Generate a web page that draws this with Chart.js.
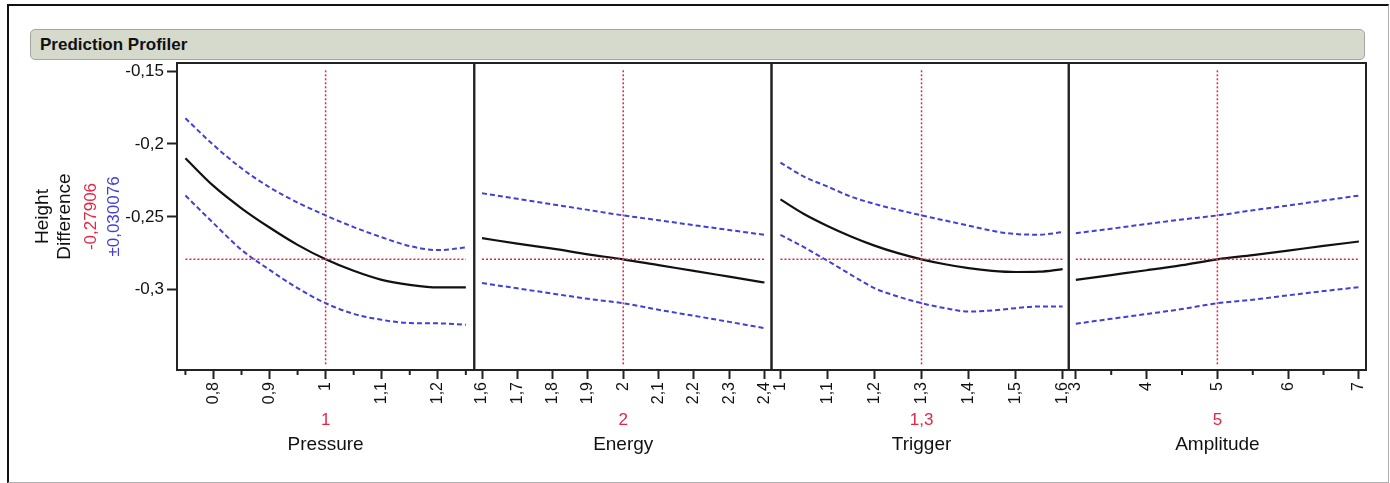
<!DOCTYPE html>
<html>
<head>
<meta charset="utf-8">
<script src="https://cdn.jsdelivr.net/npm/chart.js@4.4.1/dist/chart.umd.min.js"></script>
<style>
    body { margin: 0; background: #fff; font-family: "Liberation Sans", Arial, sans-serif; }
    #wrap { position: relative; width: 1390px; height: 483px; overflow: hidden; }
    #frame { position: absolute; left: 7px; top: 4px; width: 1379px; height: 476px;
             border-left: 2px solid #111; border-top: 2px solid #111;
             border-right: 1px solid #b0b0b0; border-bottom: 1px solid #b0b0b0; }
    #titlebar { position: absolute; left: 30px; top: 29px; width: 1324px; height: 29px;
                background: #d5dacd; border: 1px solid #a3a89e; border-radius: 5px;
                font-weight: bold; font-size: 17px; line-height: 30px; padding-left: 9px;
                box-sizing: content-box; color: #111; }
    #chart { position: absolute; left: 0; top: 0; }
</style>
</head>
<body>
<div id="wrap">
    <div id="frame"></div>
    <div id="titlebar">Prediction Profiler</div>
    <canvas id="chart" width="1390" height="483"></canvas>
</div>
<script>
const factorNames = ['Pressure', 'Energy', 'Trigger', 'Amplitude'];
const currentValues = [1, 2, 1.3, 5];
const predicted = -0.27906;
const predictedLabel = '-0,27906';
const intervalLabel = '\u00b10,030076';

const pressureX = [0.75, 0.8, 0.85, 0.9, 0.95, 1.0, 1.05, 1.1, 1.15, 1.2, 1.25];
const pressureFit = [-0.2098, -0.2288, -0.2441, -0.2573, -0.2692, -0.2791, -0.2870, -0.2932, -0.2966, -0.2984, -0.2984];
const pressureUpper = [-0.1824, -0.2007, -0.2167, -0.2297, -0.2402, -0.2490, -0.2570, -0.2640, -0.2700, -0.2728, -0.2710];
const pressureLower = [-0.2354, -0.2543, -0.2726, -0.2863, -0.2989, -0.3092, -0.3165, -0.3206, -0.3228, -0.3230, -0.3240];

const energyX = [1.6, 1.7, 1.8, 1.9, 2.0, 2.1, 2.2, 2.3, 2.4];
const energyFit = [-0.2646, -0.2683, -0.2718, -0.2757, -0.2791, -0.2831, -0.2870, -0.2910, -0.2950];
const energyUpper = [-0.2338, -0.2376, -0.2414, -0.2452, -0.2490, -0.2523, -0.2557, -0.2590, -0.2623];
const energyLower = [-0.2954, -0.2990, -0.3026, -0.3062, -0.3092, -0.3137, -0.3178, -0.3220, -0.3263];

const triggerX = [1.0, 1.05, 1.1, 1.15, 1.2, 1.25, 1.3, 1.35, 1.4, 1.45, 1.5, 1.55, 1.6];
const triggerFit = [-0.2380, -0.2480, -0.2562, -0.2634, -0.2697, -0.2749, -0.2791, -0.2825, -0.2852, -0.2870, -0.2878, -0.2876, -0.2858];
const triggerUpper = [-0.2128, -0.2224, -0.2292, -0.2361, -0.2411, -0.2452, -0.2490, -0.2525, -0.2560, -0.2595, -0.2618, -0.2622, -0.2605];
const triggerLower = [-0.2623, -0.2708, -0.2801, -0.2897, -0.2989, -0.3046, -0.3092, -0.3126, -0.3149, -0.3142, -0.3126, -0.3114, -0.3114];

const amplitudeX = [3, 3.5, 4, 4.5, 5, 5.5, 6, 6.5, 7];
const amplitudeFit = [-0.2932, -0.2899, -0.2866, -0.2831, -0.2791, -0.2762, -0.2731, -0.2699, -0.2669];
const amplitudeUpper = [-0.2612, -0.2581, -0.2549, -0.2518, -0.2490, -0.2455, -0.2422, -0.2388, -0.2354];
const amplitudeLower = [-0.3233, -0.3199, -0.3166, -0.3132, -0.3092, -0.3068, -0.3038, -0.3009, -0.2982];

// axis ranges and tick values
const xRanges = [[0.735, 1.265], [1.578, 2.42], [0.981, 1.613], [2.9, 7.1]];
const xTicks = [
    [0.75, 0.8, 0.85, 0.9, 0.95, 1.0, 1.05, 1.1, 1.15, 1.2, 1.25],
    [1.6, 1.7, 1.8, 1.9, 2.0, 2.1, 2.2, 2.3, 2.4],
    [1.0, 1.1, 1.2, 1.3, 1.4, 1.5, 1.6],
    [3, 3.5, 4, 4.5, 5, 5.5, 6, 6.5, 7]
];
const xMinorTicks = [
    [0.75, 0.85, 0.95, 1.05, 1.15, 1.25],
    [],
    [],
    [3.5, 4.5, 5.5, 6.5]
];
const yRange = [-0.355, -0.1445];
const yTicks = [-0.15, -0.2, -0.25, -0.3];
const crossTop = -0.1495;
const crossBottom = -0.3515;

const panelX = [pressureX, energyX, triggerX, amplitudeX];
const panelFit = [pressureFit, energyFit, triggerFit, amplitudeFit];
const panelUpper = [pressureUpper, energyUpper, triggerUpper, amplitudeUpper];
const panelLower = [pressureLower, energyLower, triggerLower, amplitudeLower];

const FONT = '"Liberation Sans", Arial, sans-serif';
const RED = 'rgb(228, 38, 70)';
const BLUE = 'rgb(64, 64, 214)';

function pairs(xs, ys) {
    return xs.map((x, i) => ({ x: x, y: ys[i] }));
}

function comma(v) {
    return String(Math.round(v * 1000) / 1000).replace('.', ',');
}

const datasets = [];
const scales = {};

panelX.forEach(function(xs, p) {
    const axisId = 'x' + p;
    const xmin = xs[0], xmax = xs[xs.length - 1];

    datasets.push({
        data: pairs(xs, panelUpper[p]), xAxisID: axisId, yAxisID: 'y',
        borderColor: BLUE, borderWidth: 2, borderDash: [5, 3], pointRadius: 0,
        cubicInterpolationMode: 'monotone', fill: false
    });
    datasets.push({
        data: pairs(xs, panelLower[p]), xAxisID: axisId, yAxisID: 'y',
        borderColor: BLUE, borderWidth: 2, borderDash: [5, 3], pointRadius: 0,
        cubicInterpolationMode: 'monotone', fill: false
    });
    // crosshair
    datasets.push({
        data: [{ x: xmin, y: predicted }, { x: xmax, y: predicted }], xAxisID: axisId, yAxisID: 'y',
        borderColor: RED, borderWidth: 1.5, borderDash: [2, 2], pointRadius: 0, fill: false
    });
    datasets.push({
        data: [{ x: currentValues[p], y: crossTop }, { x: currentValues[p], y: crossBottom }], xAxisID: axisId, yAxisID: 'y',
        borderColor: RED, borderWidth: 1.5, borderDash: [2, 2], pointRadius: 0, fill: false
    });
    datasets.push({
        data: pairs(xs, panelFit[p]), xAxisID: axisId, yAxisID: 'y',
        borderColor: '#111', borderWidth: 2.2, pointRadius: 0,
        cubicInterpolationMode: 'monotone', fill: false
    });

    scales[axisId] = {
        type: 'linear',
        position: 'bottom',
        stack: 'profile',
        stackWeight: 1,
        min: xRanges[p][0],
        max: xRanges[p][1],
        afterBuildTicks: function(scale) {
            scale.ticks = xTicks[p].map(v => ({ value: v }));
        },
        afterFit: function(scale) { scale.height = 40; },
        border: { display: false },
        grid: {
            display: true,
            drawOnChartArea: false,
            drawTicks: true,
            tickLength: 9,
            tickWidth: 2,
            tickColor: function(ctx) {
                const v = ctx.tick ? ctx.tick.value : null;
                return xMinorTicks[p].includes(v) ? 'rgba(0,0,0,0)' : '#222';
            }
        },
        ticks: {
            autoSkip: false,
            minRotation: 90,
            maxRotation: 90,
            padding: 3,
            color: '#111',
            font: { family: FONT, size: 16 },
            callback: function(v) {
                return xMinorTicks[p].includes(v) ? '' : comma(v);
            }
        }
    };
});

scales.y = {
    type: 'linear',
    position: 'left',
    min: yRange[0],
    max: yRange[1],
    afterBuildTicks: function(scale) {
        scale.ticks = yTicks.map(v => ({ value: v }));
    },
    afterFit: function(scale) { scale.width = 77; },
    border: { display: false },
    grid: {
        display: true,
        drawOnChartArea: false,
        drawTicks: true,
        tickLength: 10,
        tickWidth: 2,
        tickColor: '#222'
    },
    ticks: {
        padding: 3,
        color: '#111',
        font: { family: FONT, size: 17 },
        callback: function(v) { return comma(v); }
    }
};

const profilerDecor = {
    id: 'profilerDecor',
    afterDraw: function(chart) {
        const ctx = chart.ctx;
        const area = chart.chartArea;
        ctx.save();

        factorNames.forEach(function(name, p) {
            const scale = chart.scales['x' + p];
            // panel frame
            ctx.strokeStyle = '#222';
            ctx.lineWidth = 2;
            ctx.strokeRect(scale.left, area.top, scale.right - scale.left, area.bottom - area.top);

            // short minor ticks
            ctx.lineWidth = 2;
            xMinorTicks[p].forEach(function(v) {
                const px = scale.getPixelForValue(v);
                ctx.beginPath();
                ctx.moveTo(px, area.bottom);
                ctx.lineTo(px, area.bottom + 5);
                ctx.stroke();
            });

            const cx = scale.getPixelForValue(currentValues[p]);
            ctx.textAlign = 'center';
            ctx.textBaseline = 'middle';
            ctx.fillStyle = RED;
            ctx.font = '17px ' + FONT;
            ctx.fillText(comma(currentValues[p]), cx, area.bottom + 50);
            ctx.fillStyle = '#111';
            ctx.font = '19px ' + FONT;
            ctx.fillText(name, cx, area.bottom + 75);
        });

        // y axis title
        const midY = (area.top + area.bottom) / 2;
        const lines = [
            ['Height', '#111', '19px ', -134],
            ['Difference', '#111', '19px ', -112],
            [predictedLabel, RED, '17px ', -86],
            [intervalLabel, BLUE, '17px ', -63]
        ];
        lines.forEach(function(l) {
            ctx.save();
            ctx.translate(area.left + l[3], midY);
            ctx.rotate(-Math.PI / 2);
            ctx.textAlign = 'center';
            ctx.textBaseline = 'middle';
            ctx.fillStyle = l[1];
            ctx.font = l[2] + FONT;
            ctx.fillText(l[0], 0, 0);
            ctx.restore();
        });

        ctx.restore();
    }
};

new Chart(document.getElementById('chart'), {
    type: 'line',
    data: { datasets: datasets },
    options: {
        responsive: false,
        animation: false,
        layout: { padding: { left: 100, top: 63, right: 24, bottom: 73 } },
        scales: scales,
        plugins: {
            legend: { display: false },
            tooltip: { enabled: false },
            title: { display: false }
        }
    },
    plugins: [profilerDecor]
});
</script>
</body>
</html>
